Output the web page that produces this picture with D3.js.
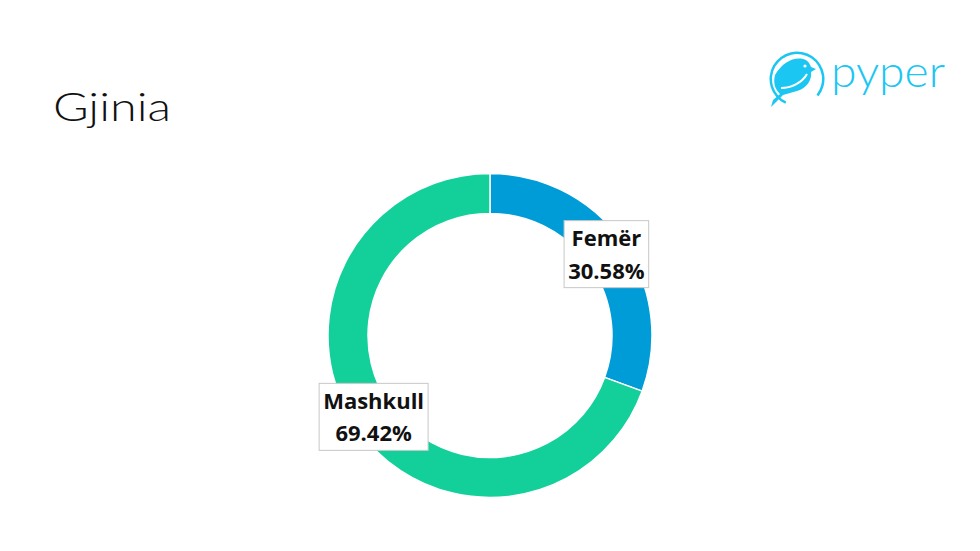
<!DOCTYPE html>
<html><head><meta charset="utf-8">
<script src="https://cdn.jsdelivr.net/npm/d3@7"></script>
<style>body{margin:0;background:#fff;}svg{display:block;}</style>
</head><body>
<script>
const categories = ["Femër", "Mashkull"];
const values = [30.58, 69.42];
const colors = ["#009CD8", "#13D09A"];

const W = 980, H = 551;
const svg = d3.select("body").append("svg").attr("width", W).attr("height", H);
svg.append("rect").attr("width", W).attr("height", H).attr("fill", "#fff");

svg.append("text").attr("x", 53).attr("y", 121)
  .attr("font-family", "Lato, 'DejaVu Sans', sans-serif").attr("font-size", 40).attr("font-weight", 300)
  .attr("textLength", 118).attr("lengthAdjust", "spacingAndGlyphs")
  .attr("fill", "#111").text("Gjinia");

// logo
const logo = svg.append("g").attr("transform", "translate(797,79)");
const lc = "#1CC6F2";
logo.append("path").attr("d", d3.arc()({innerRadius: 25, outerRadius: 27.5, startAngle: -2.7, endAngle: 2.25}))
  .attr("fill", lc);
logo.append("path").attr("d", "M-22,-4 C-15,-16 -4,-22 6,-20 C11,-19 13,-15 14,-12 L19,-10 L14,-7 C15,1 10,9 0,12 L-14,16 L-26,28 L-24,21 L-17,15 C-22,10 -24,4 -22,-4 Z")
  .attr("fill", lc);
logo.append("path").attr("d", "M-16,9 C-6,9 5,4 10,-5").attr("fill", "none").attr("stroke", "#fff").attr("stroke-width", 2);
logo.append("circle").attr("cx", 8).attr("cy", -13).attr("r", 1.6).attr("fill", "#fff");
svg.append("text").attr("x", 831).attr("y", 87)
  .attr("font-family", "Lato, 'Open Sans', sans-serif").attr("font-size", 44).attr("font-weight", 300)
  .attr("textLength", 114).attr("lengthAdjust", "spacingAndGlyphs")
  .attr("fill", lc).text("pyper");

const cx = 490, cy = 335.5, outerR = 162, innerR = 122;
const g = svg.append("g").attr("transform", `translate(${cx},${cy})`);
const pie = d3.pie().sort(null).value(d => d)(values);
const arc = d3.arc().innerRadius(innerR).outerRadius(outerR);
g.selectAll("path.slice").data(pie).enter().append("path").attr("class", "slice")
  .attr("d", arc).attr("fill", (d, i) => colors[i]).attr("stroke", "#fff").attr("stroke-width", 1.5);

const labelArc = d3.arc().innerRadius(142).outerRadius(142);
const lab = g.selectAll("g.lab").data(pie).enter().append("g").attr("class", "lab")
  .attr("transform", d => { const c = labelArc.centroid(d); return `translate(${c[0]},${c[1]})`; });
lab.each(function(d, i) {
  const s = d3.select(this);
  const t1 = categories[i], t2 = values[i].toFixed(2) + "%";
  const rect = s.append("rect").attr("fill", "#fff").attr("stroke", "#c8c8c8").attr("stroke-width", 1);
  const txt = s.append("text").attr("text-anchor", "middle")
    .attr("font-family", "'Open Sans', 'Liberation Sans', sans-serif").attr("font-weight", 700)
    .attr("font-size", 22).attr("fill", "#111");
  txt.append("tspan").attr("x", 0).attr("y", -8).text(t1);
  txt.append("tspan").attr("x", 0).attr("y", 24.5).text(t2);
  const bb = txt.node().getBBox();
  const w = bb.width + 8, h = 67;
  rect.attr("x", -w / 2).attr("y", -h / 2).attr("width", w).attr("height", h);
});
</script>
</body></html>
